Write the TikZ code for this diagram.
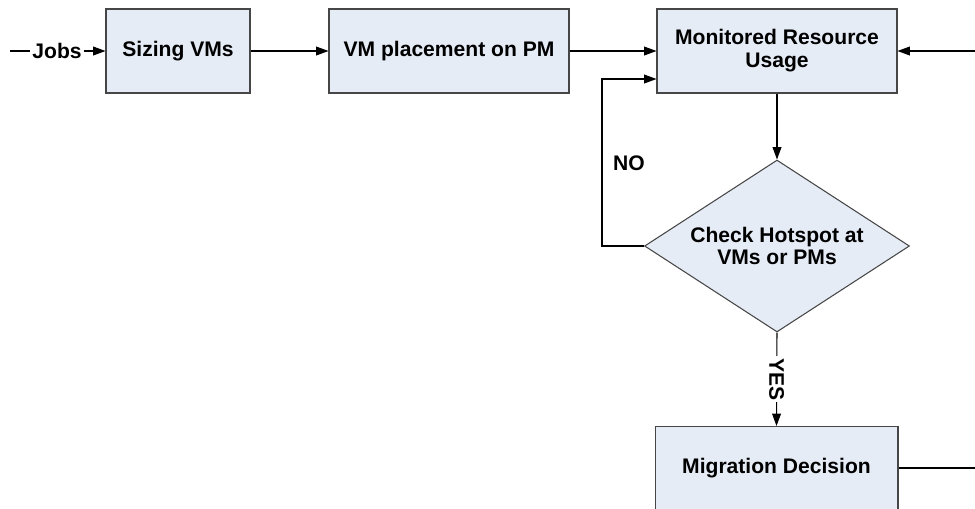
\documentclass[tikz,border=0pt]{standalone}
\usepackage{fontspec}
\setmainfont{Liberation Sans}
\usetikzlibrary{arrows.meta,shapes.geometric}

\definecolor{boxfill}{RGB}{230,236,246}
\definecolor{boxline}{RGB}{70,70,70}

\tikzset{
    stagebox/.style={draw=boxline, fill=boxfill, line width=0.6pt, minimum height=1.68cm, align=center, inner sep=2pt},
    checkbox/.style={draw=boxline, fill=boxfill, line width=0.6pt, diamond, aspect=1.54, minimum width=5.3cm, minimum height=3.44cm, inner sep=0pt, align=center},
    arr/.style={-{Triangle[length=7pt,width=5pt]}, line width=0.6pt},
    link/.style={line width=0.6pt},
    lbl/.style={font=\fontsize{12}{13}\selectfont\bfseries}
}

\begin{document}
\begin{tikzpicture}[x=0.02cm, y=-0.02cm, lbl]
    \clip (0,0) rectangle (975,508);

    % Main chain
    \node[stagebox, minimum width=2.88cm] (size) at (178,51) {Sizing VMs};
    \node[stagebox, minimum width=4.8cm] (place) at (449,51) {VM placement on PM};
    \node[stagebox, minimum width=4.8cm] (mon) at (777,51) {Monitored Resource\\Usage};
    \node[checkbox] (chk) at (777,246) {Check Hotspot at\\VMs or PMs};
    \node[stagebox, minimum width=4.86cm, minimum height=1.66cm] (mig) at (776.5,468) {Migration Decision};

    % Input
    \coordinate (start) at (10,51);
    \node[inner sep=1pt] (jobs) at (57,51) {Jobs};
    \draw[link] (start) -- (jobs.west);
    \draw[arr] (jobs.east) -- (size.west);

    % Connections
    \draw[arr] (size.east) -- (place.west);
    \draw[arr] (place.east) -- (mon.west);
    \draw[arr] (mon.south) -- (chk.north);

    % NO loop
    \coordinate (nobend) at (602,79);
    \draw[arr] (chk.west) -| (nobend) -- (nobend -| mon.west);
    \node (no) at (629,163) {NO};

    % YES branch
    \draw[arr] (chk.south) -- node[fill=white, rotate=-90, inner sep=1pt] (yes) {YES} (mig.north);

    % Right side
    \coordinate (feedin) at (975,51);
    \coordinate (migout) at (975,468);
    \draw[arr] (feedin) -- (mon.east);
    \draw[link] (mig.east) -- (migout);
\end{tikzpicture}
\end{document}
